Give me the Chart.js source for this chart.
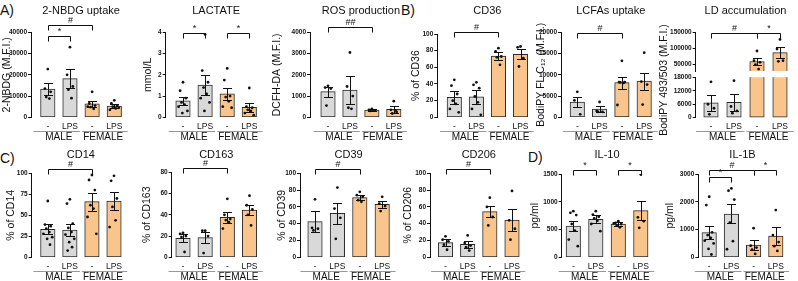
<!DOCTYPE html>
<html lang="en">
<head>
<meta charset="UTF-8">
<title>Metabolism and markers - MALE vs FEMALE</title>
<script src="https://cdn.jsdelivr.net/npm/chart.js"></script>
<style>
  body { margin: 0; background: #fff; }
  #fig { position: relative; width: 798px; height: 281px; overflow: hidden; font-family: Arial, "Liberation Sans", sans-serif; }
  #fig canvas { position: absolute; left: 0; }
  .letra { position: absolute; font-size: 14px; line-height: 14px; color: #111; }
</style>
</head>
<body>
<div id="fig">
  <div class="letra" style="left:0;top:3px">A)</div>
  <div class="letra" style="left:401px;top:3px">B)</div>
  <div class="letra" style="left:0;top:151px">C)</div>
  <div class="letra" style="left:528px;top:150px">D)</div>
</div>
<script>
const treatments = ['-', 'LPS', '-', 'LPS'];
const sexes = ['MALE', 'FEMALE'];

// A) 2-NBDG uptake
const nbdgTicks = [0, 10000, 20000, 30000, 40000];
const nbdgMean = [13300, 18200, 6300, 5300];
const nbdgSem = [2700, 4300, 1350, 800];
const nbdgDots = [[22700, 13500, 12000, 9500, 8800], [33000, 20000, 14500, 13000, 9000], [12000, 6500, 5500, 4800, 4000, 5000], [8000, 6500, 5500, 5000, 4200, 3500, 4500]];
const nbdgSig = [[0, 1, 38100, '*'], [0, 2, 43300, '#']];

// LACTATE
const lacTicks = [0, 1, 2, 3, 4];
const lacMean = [0.77, 1.52, 1.1, 0.47];
const lacSem = [0.2, 0.45, 0.28, 0.21];
const lacDots = [[1.65, 1.25, 0.9, 0.7, 0.6, 0.5, 0.3, 0.2], [3.9, 2.2, 1.65, 1.4, 1.1, 0.9, 0.7, 0.3], [2.3, 1.75, 1.0, 0.95, 0.75, 0.5, 0.45], [1.38, 0.5, 0.45, 0.35, 0.3, 0.2, 0.1]];
const lacSig = [[0, 1, 3.96, '*'], [2, 3, 3.96, '*']];

// ROS production
const rosTicks = [0, 1000, 2000, 3000, 4000];
const rosMean = [1205, 1285, 345, 375];
const rosSem = [230, 640, 40, 170];
const rosDots = [[1480, 1400, 1350, 550], [3050, 1450, 1000, 450, 400], [400, 350, 320, 300], [760, 350, 250, 180, 330]];
const rosSig = [[0, 2, 4265, '##']];

// B) CD36
const cd36Ticks = [0, 20, 40, 60, 80, 100];
const cd36Mean = [24, 24.5, 73.6, 75.6];
const cd36Sem = [7.5, 8, 5, 6];
const cd36Dots = [[45, 38, 28, 20, 16, 10, 6], [42, 39, 35, 25, 18, 10, 3], [83, 79, 73, 72, 63], [85, 84, 71, 61]];
const cd36Sig = [[0, 2, 102, '#']];

// LCFAs uptake
const lcfaTicks = [0, 5000, 10000, 15000, 20000];
const lcfaMean = [3600, 1950, 8150, 8540];
const lcfaSem = [1150, 700, 1400, 2000];
const lcfaDots = [[6000, 4000, 700], [3600, 1500, 1300, 1300], [13300, 8300, 8300, 8200, 8100, 2900], [15200, 8400, 7700, 3000]];
const lcfaSig = [[0, 2, 19800, '#']];

// LD accumulation (eixo quebrado)
const ldTicksTop = [50000, 100000, 150000];
const ldTicksBottom = [0, 6000, 12000, 18000];
const ldTopMin = 30000;
const ldMean = [6600, 6800, 59500, 86900];
const ldSem = [3700, 3800, 12000, 16500];
const ldDots = [[16000, 6000, 4200, 1500], [16500, 5000, 3000, 2000], [92000, 62000, 57000, 50000, 36000], [128000, 98000, 62000, 60000]];
const ldSig = [[0, 2, 147000, '#'], [2, 3, 147000, '*']];

// C) CD14
const cd14Ticks = [0, 25, 50, 75, 100];
const cd14Mean = [33.3, 32.5, 66.3, 67];
const cd14Sem = [5.9, 7.5, 10.7, 10.3];
const cd14Dots = [[67, 39, 37, 34, 30, 28, 24, 22, 15], [69, 64, 40, 35, 30, 27, 22, 18, 12, 8], [98, 92, 80, 62, 58, 48, 28], [97, 91, 70, 60, 44, 36]];
const cd14Sig = [[0, 2, 104.7, '#']];

// CD163
const cd163Ticks = [0, 20, 40, 60, 80];
const cd163Mean = [17.9, 18.5, 37.6, 44.5];
const cd163Sem = [3.7, 5.5, 5.3, 4.7];
const cd163Dots = [[23, 22, 20, 19, 5], [25, 25, 20, 4], [55, 40, 36, 35, 33, 27], [58, 49, 45, 40, 30]];
const cd163Sig = [[0, 2, 84, '#']];

// CD39
const cd39Ticks = [0, 20, 40, 60, 80, 100];
const cd39Mean = [42.5, 52.4, 71, 63];
const cd39Sem = [12.9, 12.8, 3, 4.6];
const cd39Dots = [[69, 35, 34, 32], [83, 58, 47, 22], [78, 74, 72, 68, 66], [72, 64, 61, 55]];
const cd39Sig = [[0, 2, 104.7, '#']];

// CD206
const cd206Ticks = [0, 20, 40, 60, 80, 100];
const cd206Mean = [17.5, 15.5, 54.4, 44.4];
const cd206Sem = [4, 4, 6.7, 12.7];
const cd206Dots = [[25, 21, 19, 15, 9], [26, 17, 14, 12, 8], [71, 60, 48, 38], [79, 44, 34, 21]];
const cd206Sig = [[0, 2, 104.7, '#']];

// D) IL-10
const il10Ticks = [0, 500, 1000, 1500];
const il10Mean = [564, 684, 600, 840];
const il10Sem = [96, 69, 33, 170];
const il10Dots = [[830, 800, 760, 600, 480, 320, 200], [830, 770, 730, 700, 660, 600, 470], [650, 620, 600, 580, 540, 610], [1490, 720, 650, 530]];
const il10Sig = [[0, 1, 1570, '*'], [2, 3, 1570, '*']];

// IL-1B
const il1bTicks = [0, 1000, 2000, 3000];
const il1bMean = [888, 1560, 444, 768];
const il1bSem = [228, 342, 168, 330];
const il1bDots = [[2180, 1880, 900, 800, 700, 600, 500, 300, 100], [2480, 2400, 2080, 1250, 580, 290], [1050, 420, 350, 280, 120], [1700, 800, 550, 400, 230]];
const il1bSig = [[0, 1, 2900, '*'], [0, 2, 3140, '#'], [2, 3, 3140, '*']];

const FONT = 'Arial, "Liberation Sans", sans-serif';
const CORES = ['#d9d9d9', '#d9d9d9', '#fac58c', '#fac58c'];
const JIT = [0, -0.13, 0.13, -0.07, 0.07, -0.2, 0.2, -0.03, 0.1, -0.1];
const rows = [{ top: 0, h: 140, titleY: 11 }, { top: 140, h: 141, titleY: 155 }];

const panels = [
  { title: '2-NBDG uptake', yTitle: '2-NBDG (M.F.I.)', mean: nbdgMean, sem: nbdgSem, dots: nbdgDots, ticks: nbdgTicks, sig: nbdgSig, row: 0, L: 31, c0: 47.8, c3: 114.3, T: 32.3, Z: 117.3, ytx: 7 },
  { title: 'LACTATE', yTitle: 'mmol/L', mean: lacMean, sem: lacSem, dots: lacDots, ticks: lacTicks, sig: lacSig, row: 0, L: 165.7, c0: 183, c3: 249.3, T: 32.3, Z: 117.3, ytx: 148 },
  { title: 'ROS production', yTitle: 'DCFH-DA (M.F.I.)', mean: rosMean, sem: rosSem, dots: rosDots, ticks: rosTicks, sig: rosSig, row: 0, L: 310, c0: 328, c3: 393.8, T: 32.3, Z: 117.3, ytx: 277 },
  { title: 'CD36', yTitle: '% of CD36', mean: cd36Mean, sem: cd36Sem, dots: cd36Dots, ticks: cd36Ticks, sig: cd36Sig, row: 0, L: 437.3, c0: 454.3, c3: 520.5, T: 34, Z: 117.3, ytx: 416 },
  { title: 'LCFAs uptake', yTitle: 'BodiPY FL C\u2081\u2082 (M.F.I.)', mean: lcfaMean, sem: lcfaSem, dots: lcfaDots, ticks: lcfaTicks, sig: lcfaSig, row: 0, L: 561, c0: 577.3, c3: 644.2, T: 32.3, Z: 117.3, ytx: 541 },
  { title: 'LD accumulation', yTitle: 'BodiPY 493/503 (M.F.I.)', mean: ldMean, sem: ldSem, dots: ldDots, sig: ldSig, row: 0, L: 695.7, c0: 711, c3: 780, yty: 80, ytx: 664, quebra: true },
  { title: 'CD14', yTitle: '% of CD14', mean: cd14Mean, sem: cd14Sem, dots: cd14Dots, ticks: cd14Ticks, sig: cd14Sig, row: 1, L: 31.7, c0: 47.8, c3: 114, T: 173.3, Z: 257.3, ytx: 11 },
  { title: 'CD163', yTitle: '% of CD163', mean: cd163Mean, sem: cd163Sem, dots: cd163Dots, ticks: cd163Ticks, sig: cd163Sig, row: 1, L: 171.7, c0: 183, c3: 249.5, T: 172.3, Z: 257.3, ytx: 147 },
  { title: 'CD39', yTitle: '% of CD39', mean: cd39Mean, sem: cd39Sem, dots: cd39Dots, ticks: cd39Ticks, sig: cd39Sig, row: 1, L: 300, c0: 315, c3: 382.2, T: 173.3, Z: 257.3, ytx: 282 },
  { title: 'CD206', yTitle: '% of CD206', mean: cd206Mean, sem: cd206Sem, dots: cd206Dots, ticks: cd206Ticks, sig: cd206Sig, row: 1, L: 430, c0: 445.5, c3: 512, T: 173.3, Z: 257.3, ytx: 408 },
  { title: 'IL-10', yTitle: 'pg/ml', mean: il10Mean, sem: il10Sem, dots: il10Dots, ticks: il10Ticks, sig: il10Sig, row: 1, L: 561.7, c0: 573.3, c3: 640.8, T: 174, Z: 257.3, ytx: 535 },
  { title: 'IL-1B', yTitle: 'pg/ml', mean: il1bMean, sem: il1bSem, dots: il1bDots, ticks: il1bTicks, sig: il1bSig, row: 1, L: 698.3, c0: 709.2, c3: 775.8, T: 174, Z: 257.3, ytx: 670 }
];

const fig = document.getElementById('fig');
const crisp = v => Math.round(v) + 0.5;

function anotacoes(p, seg, row) {
  return {
    id: 'anotacoes',
    afterDatasetsDraw(chart) {
      const ctx = chart.ctx, xs = chart.scales.x, ys = chart.scales.y;
      const px = i => xs.getPixelForValue(i);
      ctx.save();
      ctx.strokeStyle = '#111';
      ctx.fillStyle = '#111';
      ctx.lineWidth = 1;

      // barras de erro (SEM)
      p.mean.forEach((m, i) => {
        if (m < seg.min || m > seg.max) return;
        const x = crisp(px(i));
        const yA = crisp(ys.getPixelForValue(m + p.sem[i]));
        const yB = crisp(ys.getPixelForValue(m - p.sem[i]));
        ctx.beginPath();
        ctx.moveTo(x, yA); ctx.lineTo(x, yB);
        ctx.moveTo(x - 4.5, yA); ctx.lineTo(x + 4.5, yA);
        ctx.moveTo(x - 4.5, yB); ctx.lineTo(x + 4.5, yB);
        ctx.stroke();
      });

      // colchetes
      if (seg.sig) {
        ctx.textAlign = 'center';
        ctx.textBaseline = 'bottom';
        ctx.font = '9px ' + FONT;
        p.sig.forEach(([a, b, v, txt]) => {
          const xa = crisp(px(a)), xb = crisp(px(b)), y = crisp(ys.getPixelForValue(v));
          ctx.beginPath();
          ctx.moveTo(xa, y + 5); ctx.lineTo(xa, y); ctx.lineTo(xb, y); ctx.lineTo(xb, y + 5);
          ctx.stroke();
          ctx.fillText(txt, (xa + xb) / 2, y);
        });
      }

      if (seg.labels) {
        const z = seg.Z - row.top;
        ctx.textAlign = 'center';
        ctx.textBaseline = 'middle';
        ctx.font = '8.5px ' + FONT;
        treatments.forEach((t, i) => ctx.fillText(t, px(i), z + 9));

        const sp = px(1) - px(0);
        const meio = (px(1) + px(2)) / 2;
        const yl = crisp(z + 13.5);
        ctx.strokeStyle = '#999';
        ctx.beginPath();
        ctx.moveTo(px(0) - 0.65 * sp, yl); ctx.lineTo(meio - 1, yl);
        ctx.moveTo(meio + 1, yl); ctx.lineTo(px(3) + 0.6 * sp, yl);
        ctx.stroke();

        ctx.font = '10px ' + FONT;
        sexes.forEach((s, g) => ctx.fillText(s, (px(2 * g) + px(2 * g + 1)) / 2, z + 19.5));

        ctx.font = '11px ' + FONT;
        ctx.fillText(p.title, (px(0) + px(3)) / 2, row.titleY - row.top);

        const yc = (p.yty || (p.T + p.Z) / 2) - row.top;
        ctx.save();
        ctx.translate(p.ytx, yc);
        ctx.rotate(-Math.PI / 2);
        ctx.font = '10.5px ' + FONT;
        ctx.fillText(p.yTitle, 0, 0);
        ctx.restore();
      }
      ctx.restore();
    }
  };
}

function criarGrafico(p, seg) {
  const row = rows[p.row];
  const cv = document.createElement('canvas');
  cv.width = 798;
  cv.height = row.h;
  cv.style.top = row.top + 'px';
  fig.appendChild(cv);

  const sp = (p.c3 - p.c0) / 3;
  const xmin = -(p.c0 - p.L) / sp;
  const R = p.c3 + 0.6 * sp;
  const alvo = { left: p.L, right: R, top: seg.T - row.top, bottom: seg.Z - row.top };

  const pontos = [];
  p.dots.forEach((lista, i) => lista.forEach((v, k) => {
    if (v >= seg.min && v <= seg.max) pontos.push({ x: i + JIT[k % JIT.length], y: v });
  }));

  let pad = { left: alvo.left - 30, right: 798 - alvo.right, top: alvo.top, bottom: row.h - alvo.bottom };

  const chart = new Chart(cv, {
    type: 'bar',
    data: {
      datasets: [
        { type: 'scatter', data: pontos, order: 0, pointRadius: 1.4, pointBackgroundColor: '#111', pointBorderWidth: 0 },
        {
          type: 'bar', order: 1,
          data: p.mean.map((m, i) => ({ x: i, y: m })),
          backgroundColor: CORES, borderColor: '#2b2b2b', borderWidth: 1,
          borderSkipped: seg.skip, barThickness: 14.5, clip: seg.clip
        }
      ]
    },
    options: {
      responsive: false,
      animation: false,
      events: [],
      layout: { padding: pad },
      plugins: { legend: { display: false }, tooltip: { enabled: false } },
      scales: {
        x: { type: 'linear', display: false, offset: false, min: xmin, max: 3.6 },
        y: {
          type: 'linear', min: seg.min, max: seg.max,
          afterBuildTicks: s => { s.ticks = seg.ticks.map(v => ({ value: v })); },
          afterFit: s => { s.width = 30; },
          ticks: { font: { family: FONT, size: 6.5, weight: 'bold' }, color: '#111', padding: 1, callback: v => String(v) },
          grid: { drawOnChartArea: false, drawTicks: true, tickLength: 3, color: '#111' },
          border: { display: true, color: '#111', width: 1 }
        }
      }
    },
    plugins: [anotacoes(p, seg, row)]
  });

  // acerta a area do grafico na posicao medida na figura
  for (let k = 0; k < 4; k++) {
    const ca = chart.chartArea;
    const dl = alvo.left - ca.left, dr = ca.right - alvo.right, dt = alvo.top - ca.top, db = ca.bottom - alvo.bottom;
    if (Math.abs(dl) + Math.abs(dr) + Math.abs(dt) + Math.abs(db) < 0.1) break;
    pad = { left: pad.left + dl, right: pad.right + dr, top: pad.top + dt, bottom: pad.bottom + db };
    chart.options.layout.padding = pad;
    chart.update();
  }
}

panels.forEach(p => {
  if (p.quebra) {
    criarGrafico(p, { min: ldTopMin, max: ldTicksTop[ldTicksTop.length - 1], ticks: ldTicksTop, T: 32.3, Z: 71,
      sig: true, labels: false, skip: 'start', clip: { left: false, right: false, top: false, bottom: 0 } });
    criarGrafico(p, { min: 0, max: ldTicksBottom[ldTicksBottom.length - 1], ticks: ldTicksBottom, T: 77.3, Z: 117.7,
      sig: false, labels: true, skip: false, clip: { left: false, right: false, top: 0, bottom: false } });
  } else {
    criarGrafico(p, { min: p.ticks[0], max: p.ticks[p.ticks.length - 1], ticks: p.ticks, T: p.T, Z: p.Z,
      sig: true, labels: true, skip: false });
  }
});
</script>
</body>
</html>
